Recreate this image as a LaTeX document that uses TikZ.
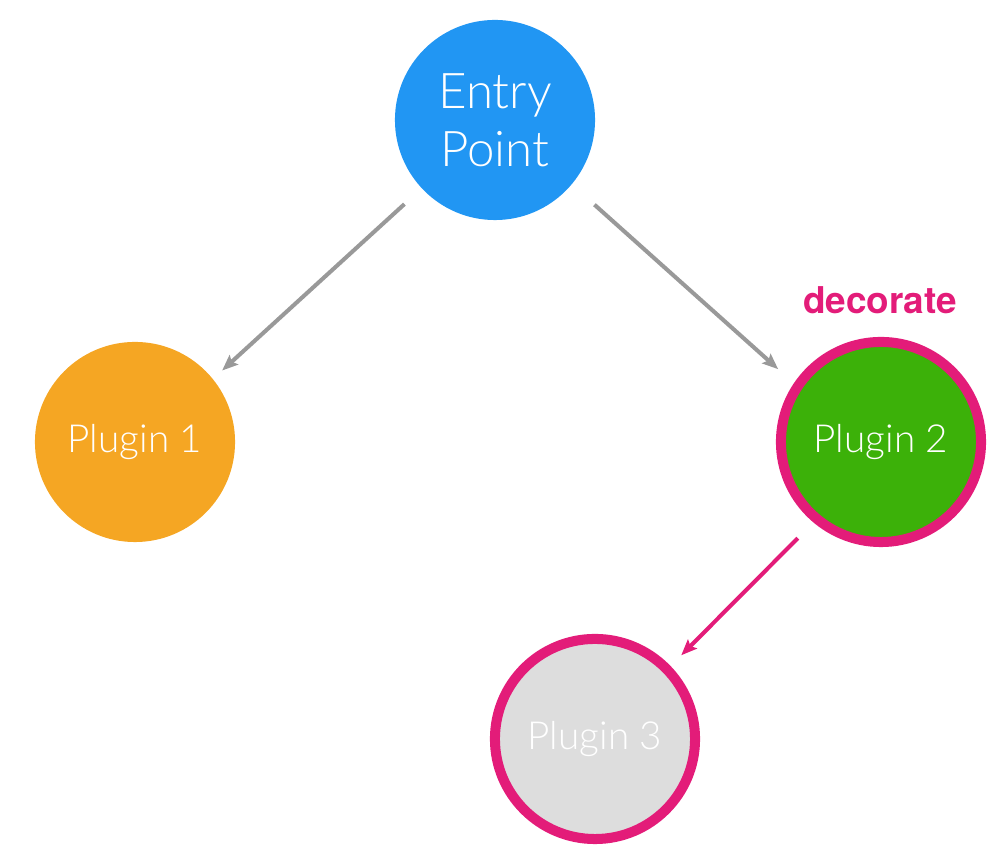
\documentclass[tikz,border=0pt]{standalone}
\usepackage{fontspec}
\setmainfont{Lato}[UprightFont={* Light},BoldFont={* Bold}]
\newfontfamily\decofont{TeX Gyre Heros}
\usetikzlibrary{arrows.meta}
\definecolor{entryblue}{HTML}{2196F3}
\definecolor{plugorange}{HTML}{F5A623}
\definecolor{pluggreen}{HTML}{3CB109}
\definecolor{pluggray}{HTML}{DDDDDD}
\definecolor{decopink}{HTML}{E31C79}
\definecolor{arrowgray}{HTML}{999999}
\newcommand{\circsize}{2cm}

\tikzset{
	plugin/.style={circle, minimum size=\circsize, inner sep=0pt, text=white, font=\fontsize{11}{13}\selectfont},
	decorated/.style={draw=decopink, line width=2.85pt},
	flow/.style={-{Stealth[length=4.5pt,width=3.6pt,inset=0.8pt]}, line width=1.15pt, arrowgray}
}

\begin{document}
\begin{tikzpicture}[x=0.01cm, y=-0.01cm]

	\useasboundingbox (0,0) rectangle (1008,862);

	\node[plugin, fill=entryblue, align=center, font=\fontsize{14}{16.5}\selectfont] (entry) at (495,120) {Entry\\Point};
	\node[plugin, fill=plugorange] (plugin1) at (135,442) {Plugin 1};
	\node[plugin, fill=pluggreen, decorated] (plugin2) at (881,442) {Plugin 2};
	\node[plugin, fill=pluggray, decorated] (plugin3) at (595,739) {Plugin 3};

	\node[text=decopink, font=\decofont\fontsize{10.5}{12}\selectfont\bfseries] (deco) at (880,300) {decorate};

	% arrows start and end a little off the circles
	\draw[flow, shorten <=6.5pt, shorten >=3.4pt] (entry.223) -- (plugin1.39);
	\draw[flow, shorten <=8.5pt, shorten >=6pt] (entry.-40) -- (plugin2.146);
	\draw[flow, decopink, shorten <=6.3pt, shorten >=4.3pt] (plugin2.230) -- (plugin3.44);

\end{tikzpicture}
\end{document}
